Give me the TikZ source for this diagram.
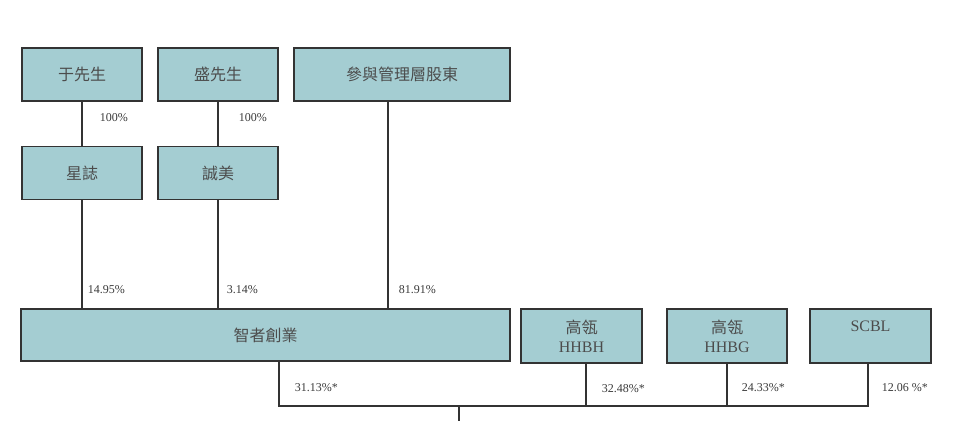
\documentclass[tikz,border=0pt]{standalone}
\usepackage{fontspec}
\setmainfont{Liberation Serif}
\newfontfamily\cjk{Noto Sans CJK TC}
\definecolor{boxfill}{HTML}{A4CDD2}
\definecolor{boxline}{HTML}{333333}
\definecolor{pcttext}{HTML}{3A3A3A}
\begin{document}
\begin{tikzpicture}[x=1pt, y=-1pt, line width=1.5pt,
  box/.style={draw=boxline, fill=boxfill, minimum width=#1,
              minimum height=53pt, align=center, inner sep=0pt,
              text=black!70, font=\fontsize{16}{19}\selectfont},
  pct/.style={anchor=west, inner sep=0pt, text=pcttext,
              font=\fontsize{12}{14}\selectfont},
  link/.style={draw=boxline}
]
  \useasboundingbox (0,0) rectangle (960,421);
  % owners
  \node[box=120pt] (yu)    at (82,74.5)  {\cjk 于先生};
  \node[box=120pt] (sheng) at (218,74.5) {\cjk 盛先生};
  \node[box=216pt] (mgmt)  at (402,74.5) {\cjk 參與管理層股東};
  \node[box=120pt] (xz)    at (82,173)   {\cjk 星誌};
  \node[box=120pt] (cm)    at (218,173)  {\cjk 誠美};
  % holders
  \node[box=489pt, minimum height=52pt] (zz) at (265.5,335) {\cjk 智者創業};
  \node[box=121pt, minimum height=54pt] (hhbh) at (581.5,336)
        {{\cjk 高瓴}\\HHBH};
  \node[box=120pt, minimum height=54pt] (hhbg) at (727,336)
        {{\cjk 高瓴}\\HHBG};
  \node[box=121pt, minimum height=54pt] (scbl) at (870.5,336)
        {SCBL\\\phantom{H}};
  \coordinate (hub)    at (459,406);
  \coordinate (hubend) at (459,421);
  % upper links
  \draw[link] (yu) -- (xz);
  \draw[link] (sheng) -- (cm);
  \draw[link] (xz) -- (xz |- zz.north);
  \draw[link] (cm) -- (cm |- zz.north);
  \draw[link] ([xshift=-14pt]mgmt.south) -- ([xshift=-14pt]mgmt.south |- zz.north);
  % lower links
  \draw[link] ([xshift=13.5pt]zz.south) |- ([xshift=-2.5pt]scbl.south |- hub)
        -- ([xshift=-2.5pt]scbl.south);
  \draw[link] ([xshift=4.5pt]hhbh.south) -- ([xshift=4.5pt]hhbh.south |- hub);
  \draw[link] (hhbg) -- (hhbg |- hub);
  \draw[link] (hub) -- (hubend);
  % percentages
  \node[pct] (p1) at (99,118)  {100\%};
  \node[pct] (p2) at (238,118) {100\%};
  \node[pct] (p3) at (87,290)  {14.95\%};
  \node[pct] (p4) at (226,290) {3.14\%};
  \node[pct] (p5) at (398,290) {81.91\%};
  \node[pct] (p6) at (294,388) {31.13\%*};
  \node[pct] (p7) at (601,389) {32.48\%*};
  \node[pct] (p8) at (741,388) {24.33\%*};
  \node[pct] (p9) at (881,388) {12.06 \%*};
\end{tikzpicture}
\end{document}
